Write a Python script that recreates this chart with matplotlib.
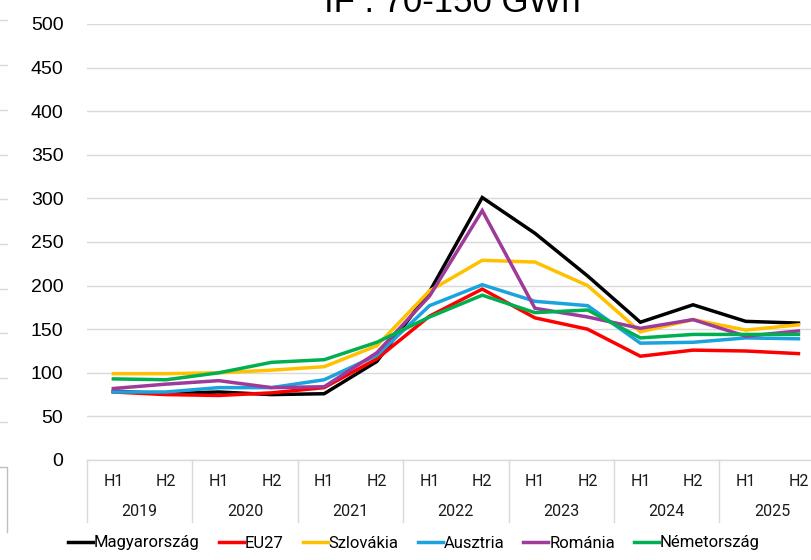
import matplotlib
matplotlib.use("Agg")
import matplotlib.pyplot as plt
from matplotlib.lines import Line2D

# halves and years on the category axis
halves = ["H1", "H2"] * 7
years = ["2019", "2020", "2021", "2022", "2023", "2024", "2025"]

# price series per country, one value per half-year
magyarorszag = [79, 76, 78, 75, 76, 113, 193, 301, 260, 211, 158, 178, 159, 157]
eu27 = [78, 75, 74, 77, 83, 116, 165, 196, 163, 150, 119, 126, 125, 122]
szlovakia = [99, 99, 100, 103, 107, 131, 194, 229, 227, 200, 147, 161, 149, 155]
ausztria = [78, 78, 83, 83, 92, 120, 177, 201, 182, 177, 134, 135, 140, 139]
romania = [82, 87, 91, 83, 84, 123, 188, 286, 174, 164, 151, 161, 142, 148]
nemetorszag = [93, 92, 100, 112, 115, 135, 164, 189, 169, 172, 140, 144, 144, 144]

series = [
    ("Magyarország", magyarorszag, "#000000"),
    ("EU27", eu27, "#FF0000"),
    ("Szlovákia", szlovakia, "#FFC000"),
    ("Ausztria", ausztria, "#1AA3DC"),
    ("Románia", romania, "#9E3A9A"),
    ("Németország", nemetorszag, "#00B050"),
]

narrow = ["Roboto", "DejaVu Sans"]
plain = ["Liberation Sans", "DejaVu Sans"]
grid_col = "#d9d9d9"

W, H = 812, 560
fig = plt.figure(figsize=(W / 100, H / 100), dpi=100)
ax = fig.add_axes([87 / W, 100 / H, 737.8 / W, 436 / H])

x = [i + 0.5 for i in range(len(halves))]
for name, vals, col in series:
    ax.plot(x, vals, color=col, linewidth=2.5, label=name, solid_joinstyle="miter")

ax.set_xlim(0, len(halves))
ax.set_ylim(0, 500)
ax.set_yticks(range(0, 501, 50))
ax.yaxis.grid(True, color=grid_col, linewidth=1.0)
ax.set_axisbelow(True)
for s in ["top", "right", "left"]:
    ax.spines[s].set_visible(False)
ax.spines["bottom"].set_color(grid_col)
ax.spines["bottom"].set_linewidth(1.0)
ax.tick_params(axis="y", length=0, pad=17, labelsize=14)
for lab in ax.get_yticklabels():
    lab.set_family(plain)
ax.set_xticks([])

# two-level category labels
tr = ax.get_xaxis_transform()
for xi, h in zip(x, halves):
    ax.text(xi, -21 / 436, h, transform=tr, ha="center", va="center",
            fontsize=11.5, family=narrow, color="#1a1a1a")
for j, y in enumerate(years):
    ax.text(2 * j + 1, -51 / 436, y, transform=tr, ha="center", va="center",
            fontsize=11.5, family=narrow, color="#1a1a1a")
for b in range(0, len(halves) + 1, 2):
    ax.plot([b, b], [0, -62 / 436], transform=tr, color=grid_col,
            linewidth=1.0, clip_on=False)

fig.text(452 / W, 1 - 12 / H, "IF : 70-150 GWh", ha="center", va="baseline",
         fontsize=25, family=plain, color="#000000")

fig.legend(loc="center", bbox_to_anchor=(414 / W, 1 - 543 / H), ncol=6,
           frameon=False, handlelength=1.5, handletextpad=0.05,
           columnspacing=1.15, prop={"family": narrow, "size": 12})

# edge of the neighbouring chart on the left
def px_line(xs, ys, col):
    fig.add_artist(Line2D([v / W for v in xs], [1 - v / H for v in ys],
                          transform=fig.transFigure, color=col, linewidth=1.0))

for gy in [20, 65, 110, 155, 199, 244, 289, 333, 378, 422]:
    px_line([0, 7], [gy, gy], grid_col)
px_line([0, 7, 7], [467, 467, 532], "#bfbfbf")

fig.savefig("out.png", dpi=100)
